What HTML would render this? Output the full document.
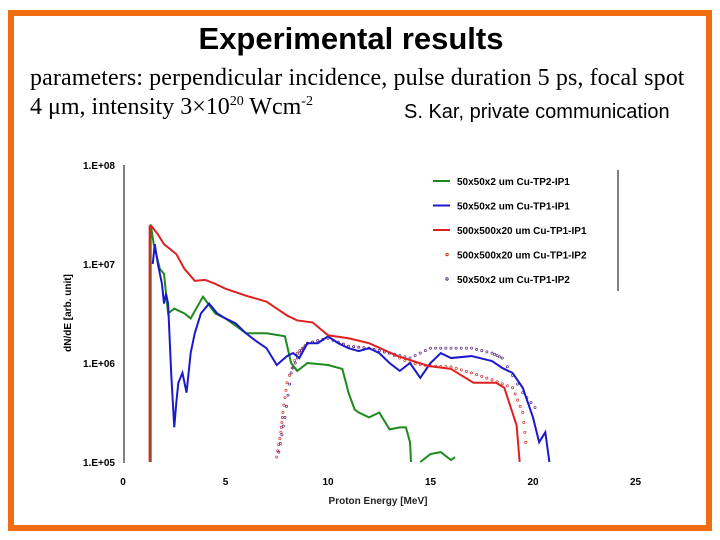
<!DOCTYPE html>
<html><head><meta charset="utf-8"><style>
body{margin:0;width:720px;height:540px;background:#fff;position:relative;overflow:hidden}
.fr{position:absolute;left:8px;top:10px;width:692px;height:509px;border:6px solid #f26c12}
.t{position:absolute;font-family:"Liberation Sans",sans-serif}
.s{position:absolute;font-family:"Liberation Serif",serif;font-size:24px;color:#000;white-space:nowrap}
</style></head><body>
<div class="fr"></div>
<div class="t" style="left:0;width:702px;text-align:center;top:21px;font-size:31px;font-weight:bold">Experimental results</div>
<div class="s" style="left:30px;top:65px;letter-spacing:0.1px">parameters: perpendicular incidence, pulse duration 5 ps, focal spot</div>
<div class="s" style="left:30px;top:94px">4 μm, intensity 3×10<sup style="font-size:14px">20</sup> Wcm<sup style="font-size:14px">-2</sup></div>
<div class="t" style="left:404px;top:101px;font-size:20px">S. Kar, private communication</div>
<svg id="c" width="720" height="540" style="position:absolute;left:0;top:0"></svg>
<script>
const xTicks=[0,5,10,15,20,25];
const yTicks=[5,6,7,8];
const yLabels=["1.E+05","1.E+06","1.E+07","1.E+08"];
const greenE=[1.35,1.35,1.5,1.8,2.0,2.2,2.5,3.0,3.3,3.9,4.5,5,6,7,7.9,8.2,8.5,9,10,10.7,11,11.3,11.5,12,12.5,13,13.5,13.8,14,14.05];
const greenL=[5,7.4,7.2,6.95,6.9,6.5,6.55,6.5,6.45,6.67,6.5,6.45,6.3,6.3,6.27,6.0,5.92,6.0,5.98,5.94,5.7,5.53,5.5,5.45,5.5,5.33,5.35,5.35,5.2,5.0];
const green2E=[14.5,15,15.5,16,16.2];
const green2L=[5.0,5.08,5.1,5.02,5.05];
const blueE=[1.45,1.55,1.7,1.9,2.0,2.1,2.2,2.35,2.5,2.6,2.7,2.9,3.1,3.3,3.5,3.8,4.2,4.6,5,5.5,6,6.5,7,7.5,8,8.3,8.6,9,9.5,10,10.5,11,11.5,12,12.5,13,13.5,14,14.5,15,15.5,16,17,18,18.5,19,19.5,20,20.3,20.6,20.8];
const blueL=[7.0,7.2,7.0,6.8,6.6,6.7,6.6,5.9,5.35,5.6,5.8,5.9,5.7,6.1,6.3,6.5,6.6,6.5,6.45,6.4,6.3,6.22,6.15,5.98,6.07,6.1,6.05,6.2,6.2,6.27,6.2,6.15,6.12,6.15,6.1,6.0,5.92,6.0,5.85,6.0,6.1,6.05,6.07,6.02,5.95,5.9,5.75,5.45,5.2,5.3,5.0];
const redE=[1.3,1.3,1.4,1.7,2.0,2.3,2.6,3.0,3.5,4,4.5,5,6,7,7.5,8,8.5,9.25,10,11,12,13.4,14.9,16,17.1,18.2,18.6,19.2,19.35];
const redL=[5,7.38,7.38,7.3,7.2,7.15,7.1,6.95,6.83,6.84,6.8,6.75,6.68,6.62,6.55,6.48,6.43,6.41,6.28,6.25,6.2,6.07,5.97,5.94,5.8,5.8,5.75,5.37,5.0];
const redDotE=[7.5,7.7,7.8,8.0,8.5,9,10,11,12,13,14,15,16,17,18,19,19.5,19.7];
const redDotL=[5.05,5.3,5.5,5.8,6.1,6.2,6.25,6.17,6.15,6.1,6.0,5.97,5.96,5.9,5.83,5.75,5.5,5.1];
const blueDotE=[7.6,7.9,8.2,8.6,9,10,11,12,13,14,15,16,17,18,18.5,19.5,20.3];
const blueDotL=[5.1,5.45,5.9,6.1,6.2,6.25,6.17,6.15,6.1,6.05,6.15,6.15,6.15,6.1,6.05,5.7,5.5];
const svg=document.getElementById('c');const NS='http://www.w3.org/2000/svg';
const X=e=>123+e*20.5, Y=l=>462-(l-5)*99;
function mk(t,a){const el=document.createElementNS(NS,t);for(const k in a)el.setAttribute(k,a[k]);svg.appendChild(el);return el;}
let el=mk('line',{x1:124,y1:165,x2:124,y2:463,stroke:'#000'});


yTicks.forEach((v,i)=>{const t=mk('text',{x:115,y:Y(v)+4,'text-anchor':'end','font-size':10,'font-weight':'bold','font-family':'Liberation Sans'});t.textContent=yLabels[i];

});
xTicks.forEach(v=>{const t=mk('text',{x:X(v),y:485,'text-anchor':'middle','font-size':10,'font-weight':'bold','font-family':'Liberation Sans'});t.textContent=v;

});
let xt=mk('text',{x:378,y:504,'text-anchor':'middle','font-size':10,'font-weight':'bold','font-family':'Liberation Sans','fill':'#222'});xt.textContent='Proton Energy [MeV]';


let yt=mk('text',{x:0,y:0,transform:'translate(71,313) rotate(-90)','text-anchor':'middle','font-size':10,'font-weight':'bold','font-family':'Liberation Sans'});yt.textContent='dN/dE [arb. unit]';


function line(E,L,col,name){const p=mk('polyline',{points:E.map((e,i)=>X(e)+','+Y(Math.max(5,L[i]))).join(' '),fill:'none',stroke:col,'stroke-width':2});

}
function dots(E,L,col,name){const g=document.createElementNS(NS,'g');svg.appendChild(g);


for(let i=0;i<E.length-1;i++){for(let k=0;k<4;k++){const e=E[i]+(E[i+1]-E[i])*k/4,l=L[i]+(L[i+1]-L[i])*k/4;const c=document.createElementNS(NS,'circle');c.setAttribute('cx',X(e));c.setAttribute('cy',Y(l));c.setAttribute('r',1.1);c.setAttribute('fill','none');c.setAttribute('stroke',col);c.setAttribute('stroke-width',0.7);g.appendChild(c);}}}
dots(redDotE,redDotL,'#d03030','series-500x500x20-tp1-ip2');
dots(blueDotE,blueDotL,'#5a2a8a','series-50x50x2-tp1-ip2');
line(greenE,greenL,'#1e8a1e','series-50x50x2-tp2-ip1');
line(green2E,green2L,'#1e8a1e','series-50x50x2-tp2-ip1-tail');
line(blueE,blueL,'#1a1acc','series-50x50x2-tp1-ip1');
line(redE,redL,'#e02020','series-500x500x20-tp1-ip1');
let lg=mk('line',{x1:618,y1:170,x2:618,y2:291,stroke:'#000'});


const legNames=['50x50x2 um Cu-TP2-IP1','50x50x2 um Cu-TP1-IP1','500x500x20 um Cu-TP1-IP1','500x500x20 um Cu-TP1-IP2','50x50x2 um Cu-TP1-IP2'];
const legCols=['#1e8a1e','#1a1acc','#e02020','#d03030','#5a2a8a'];
legNames.forEach((n,i)=>{const y=181+i*24.5;
if(i<3){const l=mk('line',{x1:433,y1:y,x2:450,y2:y,stroke:legCols[i],'stroke-width':2});}
else{const c=mk('circle',{cx:447,cy:y,r:1.2,fill:'none',stroke:legCols[i]});}
const t=mk('text',{x:457,y:y+4,'font-size':10,'font-weight':'bold','font-family':'Liberation Sans'});t.textContent=n;

});
</script>
</body></html>
